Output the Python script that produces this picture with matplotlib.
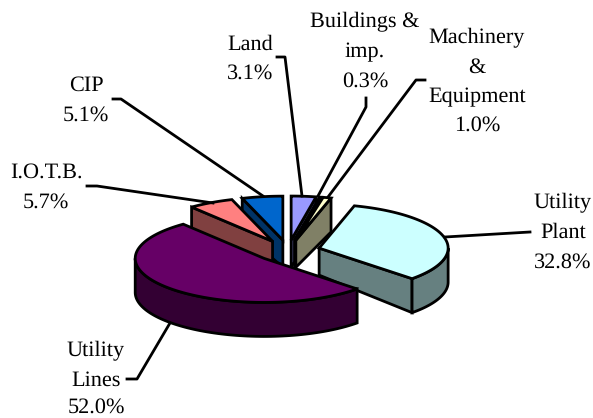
import numpy as np
import matplotlib
matplotlib.use("Agg")
import matplotlib.pyplot as plt
from matplotlib.patches import Polygon

plt.rcParams['font.family'] = ['Liberation Serif', 'DejaVu Serif']
plt.rcParams['text.hinting'] = 'none'

# Data, clockwise from 12 o'clock
categories = ["Land", "Buildings & imp.", "Machinery & Equipment", "Utility Plant",
              "Utility Lines", "I.O.T.B.", "CIP"]
shares = [3.1, 0.3, 1.0, 32.8, 52.0, 5.7, 5.1]
top_colors = ["#9999FF", "#993366", "#FFFFCC", "#CCFFFF", "#660066", "#FF8080", "#0066CC"]
side_colors = ["#4D4D80", "#4D1A33", "#808066", "#668080", "#330033", "#804040", "#003366"]

# slice indexes, back to front
draw_order = [0, 6, 1, 2, 5, 3, 4]

# label text lines, centre x, baselines (pixels)
label_lines = [["Land", "3.1%"],
               ["Buildings &", "imp.", "0.3%"],
               ["Machinery", "&", "Equipment", "1.0%"],
               ["Utility", "Plant", "32.8%"],
               ["Utility", "Lines", "52.0%"],
               ["I.O.T.B.", "5.7%"],
               ["CIP", "5.1%"]]
label_x = [250, 365, 477, 563, 96, 46, 86]
label_y = [[50, 79], [27, 57, 87], [43, 73, 102, 131], [208, 238, 268],
           [356, 386, 413], [178, 208], [91, 121]]

# leader lines (pixels)
leaders = [[(277, 57), (285, 57), (302, 196)],
           [(366, 98), (366, 107), (318, 196)],
           [(425, 80), (416, 80), (328, 197)],
           [(530, 232), (445, 237)],
           [(127, 379), (137, 379), (170, 323)],
           [(87, 186), (97, 186), (213, 203)],
           [(113, 99), (121, 99), (263, 196)]]

# pie geometry (pixels)
cx, cy = 288, 251
rx, ry = 129, 44
explode = 0.25
depth_apex, depth_rim = 27, 34
lw = 2.0


def rim(center, theta):
    return np.column_stack([center[0] + rx * np.sin(theta), center[1] - ry * np.cos(theta)])


def drop(points, depth):
    return points + np.array([0, depth])


def add_face(ax, points, color):
    ax.add_patch(Polygon(points, closed=True, facecolor=color, edgecolor="black",
                         linewidth=lw, joinstyle="miter"))


def radial_face(ax, apex, theta, color):
    outer = rim(apex, np.array([theta]))[0]
    pts = np.array([apex, outer, outer + [0, depth_rim], np.array(apex) + [0, depth_apex]])
    add_face(ax, pts, color)


def draw_slice(ax, start, end, top, side):
    mid = (start + end) / 2
    apex = (cx + explode * rx * np.sin(mid), cy - explode * ry * np.cos(mid))

    if np.sin(start) < 0:
        radial_face(ax, apex, start, side)
    if np.sin(end) > 0:
        radial_face(ax, apex, end, side)

    # curved outside, only the part facing the viewer
    lo, hi = max(start, np.pi / 2), min(end, 3 * np.pi / 2)
    if hi > lo:
        arc = rim(apex, np.linspace(lo, hi, 80))
        add_face(ax, np.vstack([arc, drop(arc, depth_rim)[::-1]]), side)

    arc = rim(apex, np.linspace(start, end, 120))
    add_face(ax, np.vstack([[apex], arc]), top)


fig = plt.figure(figsize=(5.93, 4.18), dpi=100)
ax = fig.add_axes([0, 0, 1, 1])
ax.set_xlim(0, 593)
ax.set_ylim(418, 0)
ax.axis("off")

edges = np.radians(np.concatenate([[0], np.cumsum(shares)]) * 3.6)
for i in draw_order:
    draw_slice(ax, edges[i], edges[i + 1], top_colors[i], side_colors[i])

for path in leaders:
    xs, ys = zip(*path)
    ax.plot(xs, ys, color="black", linewidth=lw, solid_joinstyle="round", zorder=5)

for lines, x, ys in zip(label_lines, label_x, label_y):
    for line, y in zip(lines, ys):
        ax.text(x, y, line, ha="center", va="baseline", fontsize=16, color="black")

fig.savefig("out.png", dpi=100)
